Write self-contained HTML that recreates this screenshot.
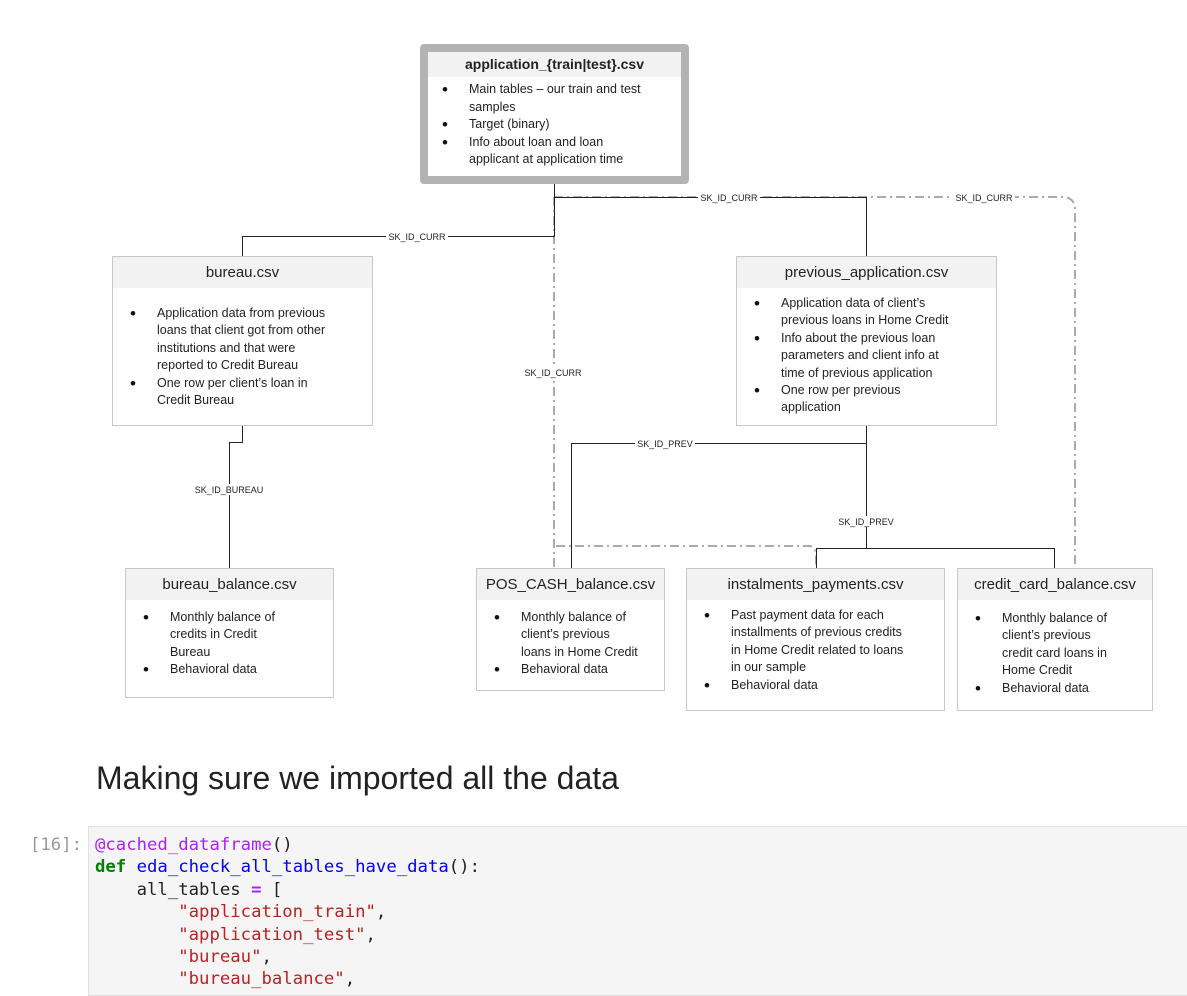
<!DOCTYPE html>
<html><head><meta charset="utf-8"><style>
*{margin:0;padding:0;box-sizing:border-box}
body{width:1187px;height:988px;background:#fff;position:relative;overflow:hidden;font-family:"Liberation Sans",sans-serif}
.box{position:absolute;border:1px solid #c8c8c8;background:#fff}
.hd{position:absolute;left:0;right:0;top:0;height:31px;background:#f2f2f2;text-align:center;font-size:15px;line-height:31px;color:#222}
.t{position:absolute;font-size:12.5px;color:#222;line-height:17.4px;white-space:nowrap}
.b{position:absolute;font-size:17px;color:#111;line-height:17.4px}
svg{position:absolute;left:0;top:0}
.lbl{font-family:"Liberation Sans",sans-serif;font-size:9px;fill:#222}
.code{position:absolute;left:88px;top:826px;width:1110px;height:170px;background:#f5f5f5;border:1px solid #e0e0e0}
pre{position:absolute;left:95px;top:834px;font-family:"DejaVu Sans Mono",monospace;font-size:17.3px;line-height:22.4px;color:#222}
</style></head><body>
<svg width="1187" height="988">
<g fill="none" stroke="#aaa" stroke-width="2" stroke-dasharray="9,4,2,4">
<path d="M554 197V568"/>
<path d="M554 197H1062Q1075 197 1075 210V568"/>
<path d="M556 546H810Q816 548 816 556V568"/>
</g>
<g fill="none" stroke="#222" stroke-width="1">
<path d="M554.5 183V236.5H242.5V256"/>
<path d="M554.5 197.5H866.5V256"/>
<path d="M242.5 425V442.5H229.5V568"/>
<path d="M866.5 425V548"/>
<path d="M866.5 443.5H571.5V568"/>
<path d="M816.5 568V548.5H1054.5V568"/>
</g>
<g>
<rect x="386" y="231" width="62" height="11" fill="#fff"/><text class="lbl" x="417" y="240" text-anchor="middle">SK_ID_CURR</text>
<rect x="698" y="192" width="62" height="11" fill="#fff"/><text class="lbl" x="729" y="201" text-anchor="middle">SK_ID_CURR</text>
<rect x="953" y="192" width="62" height="11" fill="#fff"/><text class="lbl" x="984" y="201" text-anchor="middle">SK_ID_CURR</text>
<rect x="522" y="367" width="62" height="11" fill="#fff"/><text class="lbl" x="553" y="376" text-anchor="middle">SK_ID_CURR</text>
<rect x="190" y="484" width="78" height="11" fill="#fff"/><text class="lbl" x="229" y="493" text-anchor="middle">SK_ID_BUREAU</text>
<rect x="635" y="438" width="60" height="11" fill="#fff"/><text class="lbl" x="665" y="447" text-anchor="middle">SK_ID_PREV</text>
<rect x="836" y="516" width="60" height="11" fill="#fff"/><text class="lbl" x="866" y="525" text-anchor="middle">SK_ID_PREV</text>
</g>
</svg>

<div class="box" style="left:420px;top:44px;width:269px;height:140px;border:8px solid #b3b3b3;border-radius:4px">
<div class="hd" style="height:25px;line-height:25px;font-weight:bold;font-size:14px">application_{train|test}.csv</div></div>
<div class="b" style="left:442px;top:81px;line-height:17.5px">•<br><br>•<br>•</div>
<div class="t" style="left:469px;top:81px;line-height:17.5px">Main tables – our train and test<br>samples<br>Target (binary)<br>Info about loan and loan<br>applicant at application time</div>

<div class="box" style="left:112px;top:256px;width:261px;height:170px"><div class="hd">bureau.csv</div></div>
<div class="b" style="left:130px;top:305px">•<br><br><br><br>•</div>
<div class="t" style="left:157px;top:305px">Application data from previous<br>loans that client got from other<br>institutions and that were<br>reported to Credit Bureau<br>One row per client’s loan in<br>Credit Bureau</div>

<div class="box" style="left:736px;top:256px;width:261px;height:170px"><div class="hd">previous_application.csv</div></div>
<div class="b" style="left:754px;top:295px">•<br><br>•<br><br><br>•</div>
<div class="t" style="left:781px;top:295px">Application data of client’s<br>previous loans in Home Credit<br>Info about the previous loan<br>parameters and client info at<br>time of previous application<br>One row per previous<br>application</div>

<div class="box" style="left:125px;top:568px;width:209px;height:130px"><div class="hd">bureau_balance.csv</div></div>
<div class="b" style="left:143px;top:609px">•<br><br><br>•</div>
<div class="t" style="left:170px;top:609px">Monthly balance of<br>credits in Credit<br>Bureau<br>Behavioral data</div>

<div class="box" style="left:476px;top:568px;width:189px;height:123px"><div class="hd">POS_CASH_balance.csv</div></div>
<div class="b" style="left:494px;top:609px">•<br><br><br>•</div>
<div class="t" style="left:521px;top:609px">Monthly balance of<br>client’s previous<br>loans in Home Credit<br>Behavioral data</div>

<div class="box" style="left:686px;top:568px;width:259px;height:143px"><div class="hd">instalments_payments.csv</div></div>
<div class="b" style="left:704px;top:607px">•<br><br><br><br>•</div>
<div class="t" style="left:731px;top:607px">Past payment data for each<br>installments of previous credits<br>in Home Credit related to loans<br>in our sample<br>Behavioral data</div>

<div class="box" style="left:957px;top:568px;width:196px;height:143px"><div class="hd">credit_card_balance.csv</div></div>
<div class="b" style="left:975px;top:610px">•<br><br><br><br>•</div>
<div class="t" style="left:1002px;top:610px">Monthly balance of<br>client’s previous<br>credit card loans in<br>Home Credit<br>Behavioral data</div>

<div style="position:absolute;left:96px;top:760px;font-size:32px;color:#222;white-space:nowrap">Making sure we imported all the data</div>
<div style="position:absolute;left:30px;top:834px;font-family:'DejaVu Sans Mono',monospace;font-size:17.3px;line-height:22.4px;color:#999">[16]:</div>
<div class="code"></div>
<pre><span style="color:#aa22ff">@cached_dataframe</span>()
<b style="color:#008000">def</b> <span style="color:#0000ff">eda_check_all_tables_have_data</span>():
    all_tables <b style="color:#aa22ff">=</b> [
        <span style="color:#ba2121">"application_train"</span>,
        <span style="color:#ba2121">"application_test"</span>,
        <span style="color:#ba2121">"bureau"</span>,
        <span style="color:#ba2121">"bureau_balance"</span>,</pre>
</body></html>
